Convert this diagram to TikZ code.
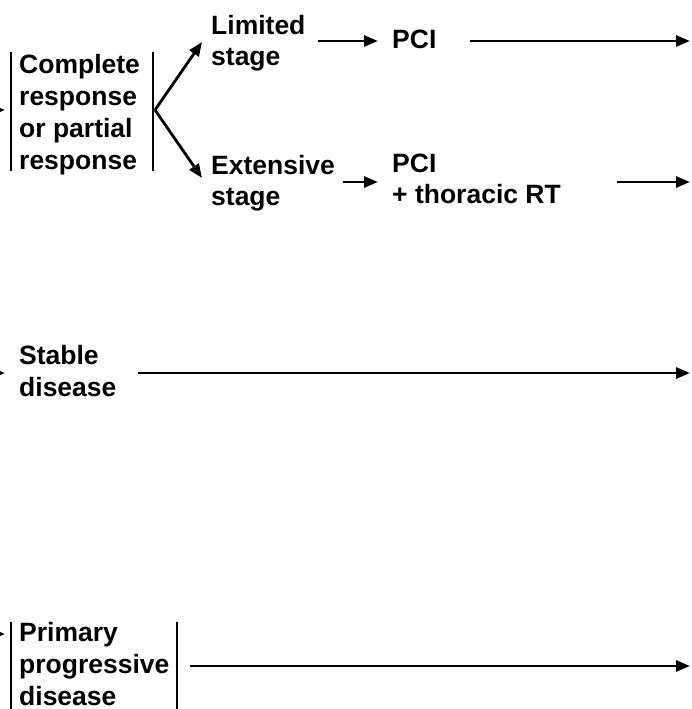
\documentclass[tikz,border=0pt]{standalone}
\usepackage{fontspec}
\setmainfont{Liberation Sans}
\usetikzlibrary{arrows.meta}
\tikzset{
  lbl/.style={anchor=north west, inner sep=0pt, align=left,
    font=\bfseries\fontsize{26.5}{32}\selectfont},
  arr/.style={line width=2.8pt, -{Triangle[length=14pt,width=11pt]}},
  bar/.style={line width=2.8pt},
}
\begin{document}
\begin{tikzpicture}[x=1pt,y=-1pt]
\useasboundingbox (0,0) rectangle (691,709);
\clip (0,0) rectangle (691,709);
% nodes
\node[lbl] (cr) at (19,54) {Complete\\response\\or partial\\response};
\node[lbl, font=\bfseries\fontsize{26.5}{31}\selectfont] (lim) at (211,15) {Limited\\stage};
\node[lbl, font=\bfseries\fontsize{26.5}{31}\selectfont] (ext) at (211,155) {Extensive\\stage};
\node[lbl] (pci1) at (392,30) {PCI};
\node[lbl, font=\bfseries\fontsize{26.5}{31}\selectfont] (pci2) at (392,154) {PCI\\+ thoracic RT};
\node[lbl] (sd) at (19,345) {Stable\\disease};
\node[lbl] (ppd) at (19,622) {Primary\\progressive\\disease};
% bars
\draw[bar] (11,52) -- (11,171);
\draw[bar] (153,52) -- (153,171);
\draw[bar] (11,622) -- (11,712);
\draw[bar] (177,622) -- (177,712);
% fork
\coordinate (fork) at (155,110);
\draw[arr] (fork) -- (202,42);
\draw[arr] (fork) -- (202,178);
% horizontal arrows
\draw[arr] (318,41) -- (378,41);
\draw[arr] (470,41) -- (690,41);
\draw[arr] (343,182) -- (378,182);
\draw[arr] (617,182) -- (690,182);
\draw[arr] (138,373) -- (690,373);
\draw[arr] (190,666) -- (690,666);
% incoming arrow tips cut at left edge
\draw[arr] (-40,110) -- (5,110);
\draw[arr] (-40,373) -- (5,373);
\draw[arr] (-40,634) -- (5,634);
\end{tikzpicture}
\end{document}
